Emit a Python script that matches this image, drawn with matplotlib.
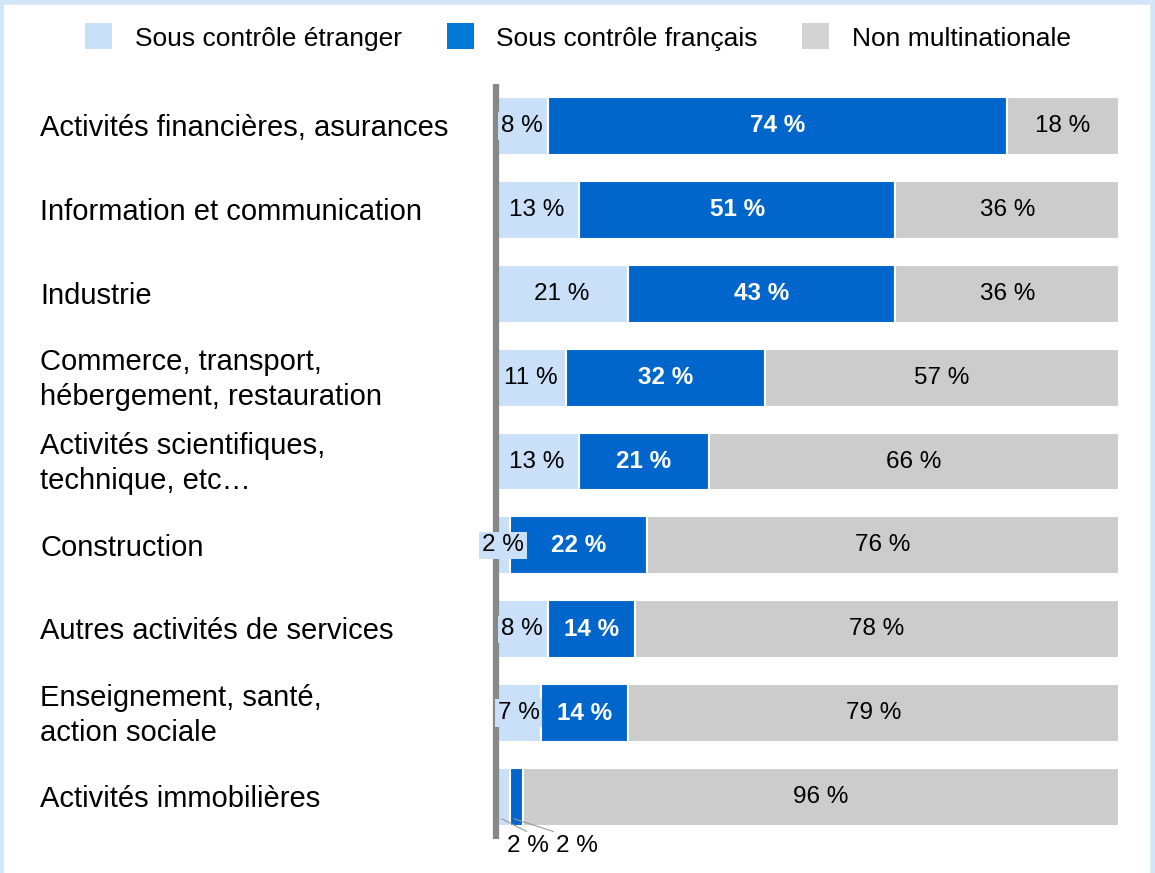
import matplotlib
matplotlib.use("Agg")
import matplotlib.pyplot as plt
from matplotlib.patches import Rectangle
from matplotlib.lines import Line2D

plt.rcParams['font.family'] = ['Liberation Sans', 'DejaVu Sans']

categories = [
    "Activités financières, asurances",
    "Information et communication",
    "Industrie",
    "Commerce, transport,\nhébergement, restauration",
    "Activités scientifiques,\ntechnique, etc…",
    "Construction",
    "Autres activités de services",
    "Enseignement, santé,\naction sociale",
    "Activités immobilières",
]
etranger = [8, 13, 21, 11, 13, 2, 8, 7, 2]
francais = [74, 51, 43, 32, 21, 22, 14, 14, 2]
non_multi = [18, 36, 36, 57, 66, 76, 78, 79, 96]
series_names = ["Sous contrôle étranger", "Sous contrôle français", "Non multinationale"]

c_light = "#C9E0F8"
c_blue = "#0066CC"
c_gray = "#CCCCCC"

fig = plt.figure(figsize=(11.55, 8.73), dpi=100)
ax = fig.add_axes([498 / 1155, 1 - 839 / 873, 621 / 1155, 755 / 873])

y = list(range(len(categories)))
h = 0.69
ax.barh(y, etranger, height=h, color=c_light, edgecolor="white", linewidth=1.5)
ax.barh(y, francais, left=etranger, height=h, color=c_blue, edgecolor="white", linewidth=1.5)
left3 = [a + b for a, b in zip(etranger, francais)]
ax.barh(y, non_multi, left=left3, height=h, color=c_gray, edgecolor="white", linewidth=1.5)

fs = 17.5
fs_cat = 21
for i in y:
    e, f, n = etranger[i], francais[i], non_multi[i]
    if i == len(categories) - 1:
        # small segments labelled under the bar with leader lines
        ax.text(4.8, 8.58, f"{e} %", ha="center", va="center", fontsize=fs, zorder=5)
        ax.text(12.7, 8.58, f"{f} %", ha="center", va="center", fontsize=fs, zorder=5)
        ax.plot([0.6, 4.6], [8.26, 8.41], color="#999999", lw=0.8, clip_on=False)
        ax.plot([2.6, 8.9], [8.26, 8.41], color="#999999", lw=0.8, clip_on=False)
    else:
        ax.text(e / 2 - 0.2, i, f"{e} %", ha="center", va="center", fontsize=fs, zorder=5,
                bbox=dict(facecolor=c_light, edgecolor="none", pad=2))
        ax.text(e + f / 2, i, f"{f} %", ha="center", va="center", fontsize=fs,
                color="white", fontweight="bold")
    ax.text(e + f + n / 2, i, f"{n} %", ha="center", va="center", fontsize=fs)
    ax.text(40 / 1155, 1 - (128 + 83.9 * i) / 873, categories[i], transform=fig.transFigure,
            ha="left", va="center", fontsize=fs_cat, linespacing=1.3)

ax.set_xlim(0, 100)
ax.set_ylim(8.5, -0.5)
ax.axvline(-0.3, color="#888888", lw=4.5, zorder=4, clip_on=False, solid_capstyle="butt")
for s in ax.spines.values():
    s.set_visible(False)
ax.set_xticks([])
ax.set_yticks([])
ax.set_facecolor("none")

# legend
leg_cols = [c_light, "#0078D7", "#D3D3D3"]
leg_sq = [85, 447, 802]
leg_tx = [135, 496, 852]
for col, sx, tx, name in zip(leg_cols, leg_sq, leg_tx, series_names):
    fig.patches.append(Rectangle((sx / 1155, 1 - 49 / 873), 27 / 1155, 26 / 873,
                                 transform=fig.transFigure, facecolor=col, edgecolor="none"))
    fig.text(tx / 1155, 1 - 39 / 873, name, ha="left", va="center", fontsize=19)

# light blue frame
border = "#D3E5F9"
fig.add_artist(Line2D([0, 1], [1 - 2 / 873, 1 - 2 / 873], transform=fig.transFigure, color=border, lw=4))
fig.add_artist(Line2D([1.5 / 1155, 1.5 / 1155], [0, 1], transform=fig.transFigure, color=border, lw=3))
fig.add_artist(Line2D([1 - 2 / 1155, 1 - 2 / 1155], [0, 1], transform=fig.transFigure, color=border, lw=4))

fig.savefig("out.png", dpi=100)
